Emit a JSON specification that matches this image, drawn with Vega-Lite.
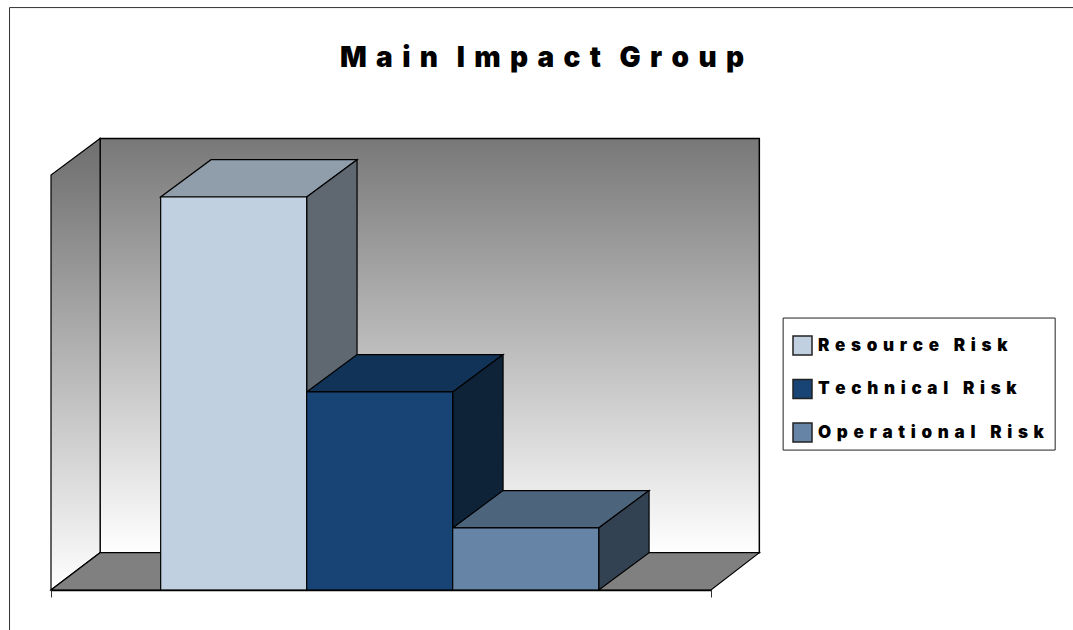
{
  "$schema": "https://vega.github.io/schema/vega-lite/v6.json",
  "width": 660,
  "height": 393,
  "autosize": {"type": "none"},
  "padding": {"left": 51, "top": 197, "right": 362, "bottom": 40},
  "background": "white",
  "title": {
    "text": "M\u2004a\u2004i\u2004n\u2004\u2004I\u2004m\u2004p\u2004a\u2004c\u2004t\u2004\u2004G\u2004r\u2004o\u2004u\u2004p",
    "font": "Inter",
    "fontSize": 28,
    "fontWeight": 900,
    "color": "black",
    "anchor": "middle",
    "frame": "group",
    "dx": 161,
    "dy": 66,
    "offset": 0
  },
  "config": {"view": {"stroke": null}},
  "datasets": {
    "chartFrame": [
      {"x": -0.284, "x2": 7.0, "y": 148.2, "y2": 148.2},
      {"x": -0.284, "x2": -0.284, "y": 148.2, "y2": -10.2}
    ],
    "leftWall": [
      {"x": 0, "low": 0, "high": 105.6},
      {"x": 0.336, "low": 9.5, "high": 114.9}
    ],
    "floor": [
      {"x": 0, "low": 0, "high": 0},
      {"x": 0.336, "low": 0, "high": 9.5},
      {"x": 4.52, "low": 0, "high": 9.5},
      {"x": 4.851, "low": 9.5, "high": 9.5}
    ],
    "faces": [
      {"face": "Resource top", "x": 0.751, "low": 100, "high": 100},
      {"face": "Resource top", "x": 1.096, "low": 100, "high": 109.5},
      {"face": "Resource top", "x": 1.751, "low": 100, "high": 109.5},
      {"face": "Resource top", "x": 2.096, "low": 109.5, "high": 109.5},
      {"face": "Resource side", "x": 1.751, "low": 0, "high": 100},
      {"face": "Resource side", "x": 2.096, "low": 9.5, "high": 109.5},
      {"face": "Technical top", "x": 1.751, "low": 50.4, "high": 50.4},
      {"face": "Technical top", "x": 2.096, "low": 50.4, "high": 59.9},
      {"face": "Technical top", "x": 2.751, "low": 50.4, "high": 59.9},
      {"face": "Technical top", "x": 3.096, "low": 59.9, "high": 59.9},
      {"face": "Technical side", "x": 2.751, "low": 0, "high": 50.4},
      {"face": "Technical side", "x": 3.096, "low": 9.5, "high": 59.9},
      {"face": "Operational top", "x": 2.751, "low": 15.8, "high": 15.8},
      {"face": "Operational top", "x": 3.096, "low": 15.8, "high": 25.3},
      {"face": "Operational top", "x": 3.751, "low": 15.8, "high": 25.3},
      {"face": "Operational top", "x": 4.096, "low": 25.3, "high": 25.3},
      {"face": "Operational side", "x": 3.751, "low": 0, "high": 15.8},
      {"face": "Operational side", "x": 4.096, "low": 9.5, "high": 25.3}
    ],
    "bars": [
      {"risk": "Resource Risk", "start": 0.751, "end": 1.751, "value": 100},
      {"risk": "Technical Risk", "start": 1.751, "end": 2.751, "value": 50.4},
      {"risk": "Operational Risk", "start": 2.751, "end": 3.751, "value": 15.8}
    ]
  },
  "data": {"name": "bars"},
  "resolve": {"scale": {"color": "independent"}},
  "layer": [
    {
      "description": "Outer border of the chart area",
      "data": {"name": "chartFrame"},
      "mark": {"type": "rule", "color": "#333333", "strokeWidth": 1},
      "encoding": {
        "x": {"field": "x", "type": "quantitative", "scale": {"domain": [0, 4.52], "nice": false, "zero": false}, "axis": {"values": [0, 4.52], "labels": false, "title": null, "grid": false, "ticks": true, "tickSize": 7, "tickColor": "#333333", "domainColor": "black", "domainWidth": 1.5, "zindex": 1}},
        "x2": {"field": "x2"},
        "y": {"field": "y", "type": "quantitative", "scale": {"domain": [0, 100], "nice": false, "zero": false}, "axis": null},
        "y2": {"field": "y2"}
      }
    },
    {
      "description": "Box behind the legend",
      "data": {"values": [{"x": 5.014, "x2": 6.877, "low": 35.6, "high": 69.2}]},
      "mark": {"type": "rect", "fill": "white", "stroke": "#222222", "strokeWidth": 1},
      "encoding": {
        "x": {"field": "x", "type": "quantitative"},
        "x2": {"field": "x2"},
        "y": {"field": "low", "type": "quantitative"},
        "y2": {"field": "high"}
      }
    },
    {
      "description": "Back wall",
      "data": {"values": [{"x": 0.336, "x2": 4.851, "low": 9.5, "high": 114.9}]},
      "mark": {
        "type": "rect",
        "stroke": "black",
        "strokeWidth": 1.5,
        "fill": {"gradient": "linear", "x1": 0, "y1": 0, "x2": 0, "y2": 1, "stops": [{"offset": 0, "color": "#787878"}, {"offset": 1, "color": "#ffffff"}]}
      },
      "encoding": {
        "x": {"field": "x", "type": "quantitative"},
        "x2": {"field": "x2"},
        "y": {"field": "low", "type": "quantitative"},
        "y2": {"field": "high"}
      }
    },
    {
      "description": "Left wall",
      "data": {"name": "leftWall"},
      "mark": {
        "type": "area",
        "stroke": "black",
        "strokeWidth": 1.2,
        "fill": {"gradient": "linear", "x1": 0, "y1": 0, "x2": 0, "y2": 1, "stops": [{"offset": 0, "color": "#707070"}, {"offset": 0.08, "color": "#787878"}, {"offset": 1, "color": "#ffffff"}]}
      },
      "encoding": {
        "x": {"field": "x", "type": "quantitative"},
        "y": {"field": "low", "type": "quantitative"},
        "y2": {"field": "high"}
      }
    },
    {
      "description": "Floor",
      "data": {"name": "floor"},
      "mark": {"type": "area", "fill": "#808080", "stroke": "black", "strokeWidth": 1.2},
      "encoding": {
        "x": {"field": "x", "type": "quantitative"},
        "y": {"field": "low", "type": "quantitative"},
        "y2": {"field": "high"}
      }
    },
    {
      "description": "Top and side faces of the columns, back to front",
      "data": {"name": "faces"},
      "mark": {"type": "area", "stroke": "black", "strokeWidth": 1.2},
      "encoding": {
        "x": {"field": "x", "type": "quantitative"},
        "y": {"field": "low", "type": "quantitative"},
        "y2": {"field": "high"},
        "color": {
          "field": "face",
          "type": "nominal",
          "legend": null,
          "sort": null,
          "scale": {
            "domain": ["Resource top", "Resource side", "Technical top", "Technical side", "Operational top", "Operational side"],
            "range": ["#909eab", "#5f6870", "#123358", "#0e2338", "#4d647d", "#334253"]
          }
        }
      }
    },
    {
      "description": "Front faces of the columns",
      "mark": {"type": "rect", "stroke": "black", "strokeWidth": 1.2},
      "encoding": {
        "x": {"field": "start", "type": "quantitative"},
        "x2": {"field": "end"},
        "y": {"field": "value", "type": "quantitative"},
        "y2": {"datum": 0},
        "color": {
          "field": "risk",
          "type": "nominal",
          "sort": null,
          "scale": {
            "domain": ["Resource Risk", "Technical Risk", "Operational Risk"],
            "range": ["#c0d0e0", "#174475", "#6685a6"]
          },
          "legend": {
            "orient": "none",
            "legendX": 741,
            "legendY": 138,
            "title": null,
            "symbolType": "square",
            "symbolSize": 361,
            "symbolStrokeColor": "#222222",
            "symbolStrokeWidth": 1.5,
            "labelFont": "Inter",
            "labelFontSize": 17,
            "labelFontWeight": 900,
            "labelColor": "black",
            "labelOffset": 5,
            "labelLimit": 400,
            "labelExpr": "replace(datum.label, /(.)/g, '$1\u2004')",
            "rowPadding": 18.5,
            "padding": 0
          }
        }
      }
    }
  ]
}
